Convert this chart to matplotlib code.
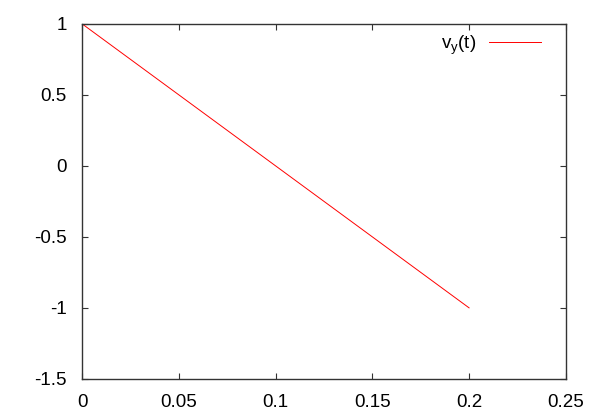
import matplotlib
matplotlib.use("Agg")
import matplotlib.pyplot as plt

# data
t = [0.0, 0.2]
vy = [1.0, -1.0]
xticks = [0, 0.05, 0.1, 0.15, 0.2, 0.25]
yticks = [-1.5, -1, -0.5, 0, 0.5, 1]
xlabels = ["0", "0.05", "0.1", "0.15", "0.2", "0.25"]
ylabels = ["-1.5", "-1", "-0.5", "0", "0.5", "1"]

plt.rcParams["font.family"] = ["Liberation Sans", "DejaVu Sans"]
plt.rcParams["mathtext.default"] = "regular"

fig = plt.figure(figsize=(6, 4.2), dpi=100)
ax = fig.add_axes([0.137, 0.098, 0.806, 0.845])
ax.plot(t, vy, color="#ff0000", lw=0.7, label="v$_y$(t)")
ax.set_xlim(0, 0.25)
ax.set_ylim(-1.5, 1)
ax.set_xticks(xticks, xlabels)
ax.set_yticks(yticks, ylabels)
ax.tick_params(direction="in", length=4, width=0.8, top=True, right=True,
               labelsize=13.5, colors="#333333", labelcolor="black")
ax.tick_params(axis="x", pad=11)
ax.tick_params(axis="y", pad=11)
for s in ax.spines.values():
    s.set_linewidth(1.0)
    s.set_color("#333333")
leg = ax.legend(loc="upper right", frameon=False, markerfirst=False, fontsize=13.5,
                handlelength=2.8, handletextpad=0.7, borderaxespad=0.2,
                bbox_to_anchor=(0.973, 1.005))
fig.savefig("out.png", dpi=100, facecolor="white")
